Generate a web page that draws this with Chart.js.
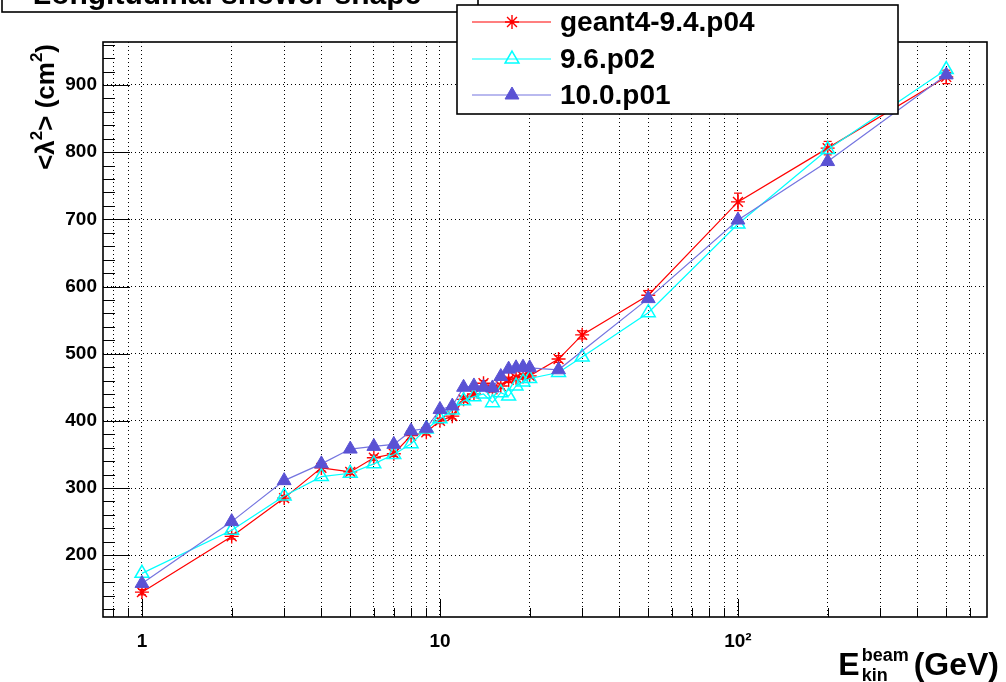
<!DOCTYPE html>
<html>
<head>
<meta charset="utf-8">
<script src="https://cdn.jsdelivr.net/npm/chart.js@4.4.1/dist/chart.umd.min.js"></script>
<style>
  html, body { margin: 0; padding: 0; background: #fff; }
  #wrap { width: 1006px; height: 682px; }
</style>
</head>
<body>
<div id="wrap"><canvas id="shower" width="1006" height="682"></canvas></div>
<script>
// beam kinetic energies (GeV)
const energies = [1, 2, 3, 4, 5, 6, 7, 8, 9, 10, 11, 12, 13, 14, 15, 16, 17, 18, 19, 20, 25, 30, 50, 100, 200, 500];

// <lambda^2> in cm^2 for each geant4 version
const g4v94 = [145, 228, 285, 330, 324, 345, 351, 378, 383, 400, 407, 432, 440, 456, 447, 452, 461, 464, 466, 467, 492, 528, 587, 726, 806, 912];
const g4v94err = [4, 4, 4, 4, 4, 4, 4, 4, 4, 4, 4, 4, 4, 4, 4, 4, 4, 4, 4, 4, 5, 6, 7, 13, 10, 10];
const g4v96 = [173, 237, 288, 317, 322, 336, 350, 366, 388, 403, 416, 430, 436, 440, 427, 442, 437, 452, 458, 463, 472, 495, 561, 693, 804, 923];
const g4v100 = [158, 250, 311, 336, 358, 362, 365, 385, 389, 417, 422, 450, 452, 450, 449, 466, 477, 479, 480, 479, 476, null, 582, 699, 786, 915];

const seriesNames = ["geant4-9.4.p04", "9.6.p02", "10.0.p01"];
const titleText = "Longitudinal shower shape";

const xTicks = [0.8, 0.9, 1, 2, 3, 4, 5, 6, 7, 8, 9, 10, 20, 30, 40, 50, 60, 70, 80, 90, 100, 200, 300, 400, 500, 600];
const xLabels = {1: "1", 10: "10", 100: "10\u00B2"};
const yTicks = [200, 300, 400, 500, 600, 700, 800, 900];

const FONT = "'Liberation Sans', Arial, Helvetica, sans-serif";
const RED = "#ff0000";
const CYAN = "#00ffff";
const BLUE_LINE = "#7474e0";
const BLUE_MARK = "#5a52d4";

function toPoints(vals) {
    return energies.map((e, i) => ({x: e, y: vals[i]})).filter(p => p.y !== null);
}

function line(ctx, x1, y1, x2, y2) {
    ctx.beginPath();
    ctx.moveTo(x1, y1);
    ctx.lineTo(x2, y2);
    ctx.stroke();
}

// error bars with small caps for the 9.4 series
const errorBars = {
    id: "errorBars",
    beforeDatasetsDraw(chart) {
        const {ctx, scales: {x, y}} = chart;
        ctx.save();
        ctx.strokeStyle = RED;
        ctx.lineWidth = 1.2;
        energies.forEach((e, i) => {
            const px = x.getPixelForValue(e);
            const top = y.getPixelForValue(g4v94[i] + g4v94err[i]);
            const bot = y.getPixelForValue(g4v94[i] - g4v94err[i]);
            line(ctx, px, top, px, bot);
            line(ctx, px - 4, top, px + 4, top);
            line(ctx, px - 4, bot, px + 4, bot);
        });
        ctx.restore();
    }
};

function drawRich(ctx, parts, x, y, align) {
    ctx.textBaseline = "alphabetic";
    ctx.textAlign = "left";
    let total = 0;
    parts.forEach(p => {
        ctx.font = "bold " + p.s + "px " + FONT;
        p.w = ctx.measureText(p.t).width;
        total += p.w;
    });
    let cx = align === "right" ? x - total : x;
    parts.forEach(p => {
        ctx.font = "bold " + p.s + "px " + FONT;
        ctx.fillText(p.t, cx, y + (p.dy || 0));
        cx += p.w;
    });
}

// frame, inner tick marks, axis titles, title pave and legend box
const decorations = {
    id: "decorations",
    afterDraw(chart) {
        const {ctx, chartArea: a, scales: {x, y}} = chart;
        ctx.save();
        ctx.strokeStyle = "#000";
        ctx.lineWidth = 1;

        xTicks.forEach(v => {
            const px = Math.round(x.getPixelForValue(v)) + 0.5;
            const len = xLabels[v] ? 18 : 9;
            line(ctx, px, a.bottom, px, a.bottom - len);
        });
        for (let v = 120; v <= 960; v += 20) {
            const py = Math.round(y.getPixelForValue(v)) + 0.5;
            const len = v % 100 === 0 ? 27 : 12;
            line(ctx, a.left, py, a.left + len, py);
        }

        ctx.lineWidth = 1.6;
        ctx.strokeRect(a.left, a.top, a.right - a.left, a.bottom - a.top);

        // y axis title, rotated, ending at the top
        ctx.fillStyle = "#000";
        ctx.save();
        ctx.translate(54, 44);
        ctx.rotate(-Math.PI / 2);
        drawRich(ctx, [
            {t: "<\u03BB", s: 26},
            {t: "2", s: 17, dy: -12},
            {t: "> (cm", s: 26},
            {t: "2", s: 17, dy: -12},
            {t: ")", s: 26}
        ], 0, 0, "right");
        ctx.restore();

        // x axis title: E_kin^beam (GeV)
        ctx.textBaseline = "alphabetic";
        ctx.textAlign = "left";
        const base = 675;
        ctx.font = "bold 32px " + FONT;
        const wGeV = ctx.measureText("(GeV)").width;
        const wE = ctx.measureText("E").width;
        ctx.font = "bold 18px " + FONT;
        const wBeam = ctx.measureText("beam").width;
        const xEnd = 999;
        const xGeV = xEnd - wGeV;
        const xSup = xGeV - 5 - wBeam;
        const xE = xSup - 2 - wE;
        ctx.font = "bold 32px " + FONT;
        ctx.fillText("E", xE, base);
        ctx.fillText("(GeV)", xGeV, base);
        ctx.font = "bold 18px " + FONT;
        ctx.fillText("beam", xSup, base - 14);
        ctx.fillText("kin", xSup, base + 6);

        // title pave, cut by the top of the canvas
        ctx.fillStyle = "#fff";
        ctx.fillRect(2, -20, 476, 32);
        ctx.lineWidth = 1.6;
        ctx.strokeRect(2, -20, 476, 32);
        ctx.fillStyle = "#000";
        ctx.font = "bold 30px " + FONT;
        ctx.textAlign = "center";
        ctx.fillText(titleText, 227, 4);

        // legend
        const lx = 457, ly = 5, lw = 441, lh = 109;
        ctx.fillStyle = "#fff";
        ctx.fillRect(lx, ly, lw, lh);
        ctx.strokeRect(lx, ly, lw, lh);
        const rows = [22, 59, 95];
        chart.data.datasets.forEach((ds, i) => {
            const ry = rows[i];
            ctx.strokeStyle = ds.borderColor;
            ctx.lineWidth = 1.2;
            line(ctx, 472, ry, 551, ry);
            ctx.fillStyle = ds.pointBackgroundColor;
            ctx.strokeStyle = ds.pointBorderColor;
            ctx.lineWidth = ds.pointBorderWidth;
            Chart.helpers.drawPoint(ctx, {
                pointStyle: ds.pointStyle, radius: ds.pointRadius, rotation: 0, borderWidth: ds.pointBorderWidth
            }, 512, ry);
            ctx.fillStyle = "#000";
            ctx.font = "bold 28px " + FONT;
            ctx.textAlign = "left";
            ctx.textBaseline = "middle";
            ctx.fillText(seriesNames[i], 560, ry + 1);
        });
        ctx.restore();
    }
};

const gridOpts = {
    color: "#000",
    lineWidth: 1,
    drawTicks: false
};
const dottedBorder = {display: false, dash: [1, 3]};
const tickFont = {family: FONT, size: 19, weight: "bold"};

new Chart(document.getElementById("shower"), {
    type: "line",
    data: {
        datasets: [
            {
                label: seriesNames[0],
                data: toPoints(g4v94),
                borderColor: RED,
                borderWidth: 1.2,
                pointStyle: "star",
                pointRadius: 7,
                pointBorderColor: RED,
                pointBackgroundColor: RED,
                pointBorderWidth: 1.4,
                order: 2
            },
            {
                label: seriesNames[1],
                data: toPoints(g4v96),
                borderColor: CYAN,
                borderWidth: 1.2,
                pointStyle: "triangle",
                pointRadius: 8,
                pointBorderColor: CYAN,
                pointBackgroundColor: "rgba(255,255,255,0)",
                pointBorderWidth: 1.5,
                order: 1
            },
            {
                label: seriesNames[2],
                data: toPoints(g4v100),
                borderColor: BLUE_LINE,
                borderWidth: 1.2,
                pointStyle: "triangle",
                pointRadius: 8,
                pointBorderColor: BLUE_MARK,
                pointBackgroundColor: BLUE_MARK,
                pointBorderWidth: 1,
                order: 0
            }
        ]
    },
    options: {
        responsive: false,
        animation: false,
        devicePixelRatio: 1,
        layout: {padding: {top: 42, right: 19, left: 0, bottom: 0}},
        plugins: {legend: {display: false}, title: {display: false}, tooltip: {enabled: false}},
        elements: {line: {tension: 0}},
        scales: {
            x: {
                type: "logarithmic",
                min: 0.74,
                max: 685,
                bounds: "data",
                afterBuildTicks: s => { s.ticks = xTicks.map(v => ({value: v})); },
                afterFit: s => { s.height = 65; },
                grid: gridOpts,
                border: dottedBorder,
                ticks: {
                    autoSkip: false,
                    maxRotation: 0,
                    padding: 13,
                    color: "#000",
                    font: tickFont,
                    callback: v => xLabels[v] || ""
                }
            },
            y: {
                type: "linear",
                min: 108,
                max: 964,
                bounds: "data",
                afterBuildTicks: s => { s.ticks = yTicks.map(v => ({value: v})); },
                afterFit: s => { s.width = 103; },
                grid: gridOpts,
                border: dottedBorder,
                ticks: {
                    padding: 6,
                    color: "#000",
                    font: tickFont
                }
            }
        }
    },
    plugins: [errorBars, decorations]
});
</script>
</body>
</html>
